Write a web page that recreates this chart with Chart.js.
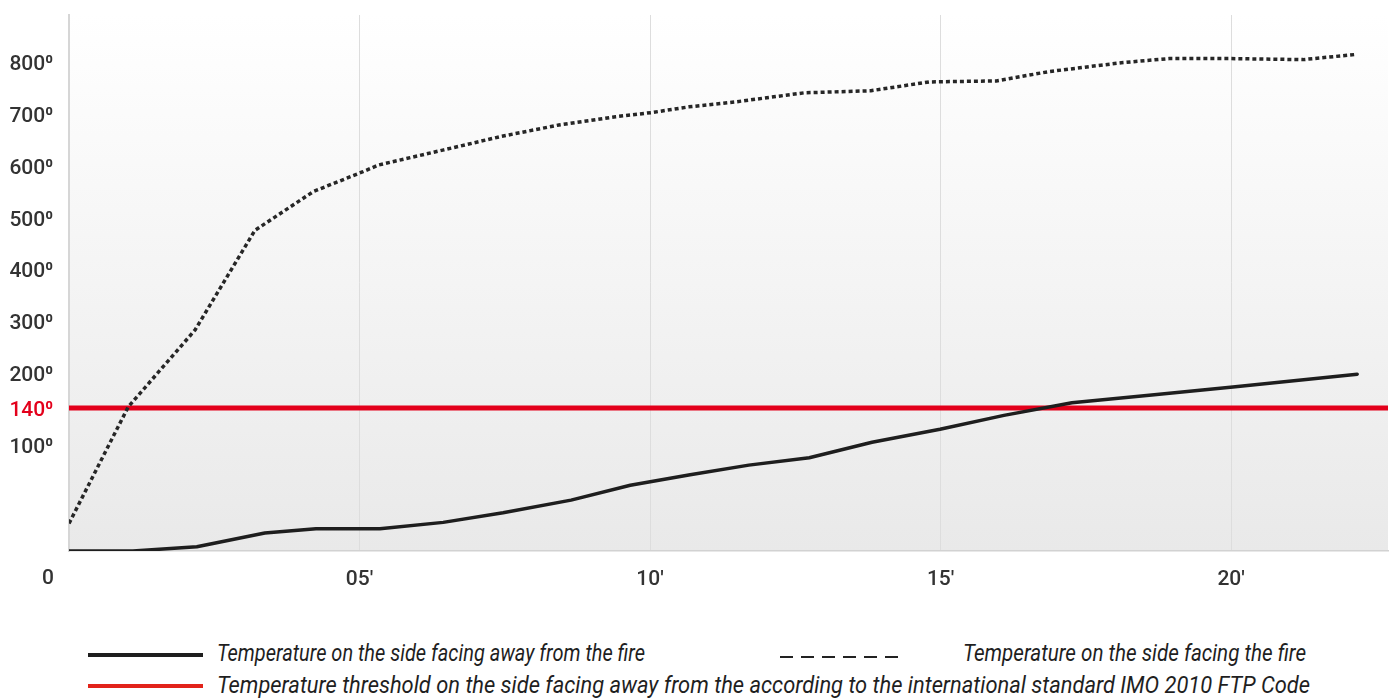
<!DOCTYPE html>
<html>
<head>
<meta charset="utf-8">
<script src="https://cdn.jsdelivr.net/npm/chart.js@4/dist/chart.umd.min.js"></script>
<style>
html,body{margin:0;padding:0;background:#fff;width:1392px;height:699px;overflow:hidden;font-family:Roboto,"Noto Sans",sans-serif}
#wrap{position:absolute;left:0;top:0;width:1392px;height:600px}
.lg-sample{position:absolute}
.lg-text{position:absolute;white-space:nowrap;font-family:Roboto,sans-serif;font-style:italic;font-size:23px;line-height:23px;color:#1f1f1f;transform-origin:0 0}
</style>
</head>
<body>
<div id="wrap"><canvas id="c" width="1392" height="600"></canvas></div>
<div id="legend"></div>
<script>
// ---------- data ----------
const awayMinutes = [0, 1.10, 2.20, 3.37, 4.25, 5.35, 6.44, 7.47, 8.64, 9.66, 10.69, 11.70, 12.74, 13.82, 14.99, 16.09, 17.26, 18.59, 20.03, 22.17];
const awayTemps   = [0, 0, 4, 17, 21, 21, 27, 36, 48, 62, 72, 81, 88, 103, 117, 132, 149, 162, 176, 198];

const fireMinutes = [0, 1.02, 2.17, 3.20, 4.21, 5.06, 5.33, 6.45, 7.44, 8.43, 9.41, 10.03, 10.67, 11.50, 12.65, 13.80, 14.80, 15.96, 16.87, 18.11, 18.93, 20.00, 21.24, 22.15];
const fireTemps   = [26, 142, 283, 475, 550, 588, 601, 630, 656, 678, 694, 702, 713, 723, 740, 744, 761, 763, 781, 798, 806, 806, 804, 814];

const thresholdTemp = 140;
const xMin = 0, xMax = 22.7;
const yMin = 0, yMax = 890;

const yTickValues = [100, 140, 200, 300, 400, 500, 600, 700, 800];
const xTickValues = [5, 10, 15, 20];
const xTickLabels = ["05'", "10'", "15'", "20'"];
const originLabel = "0";

const legendLabels = [
  "Temperature on the side facing away from the fire",
  "Temperature on the side facing the fire",
  "Temperature threshold on the side facing away from the according to the international standard IMO 2010 FTP Code"
];

// ---------- styling ----------
const RED = '#e3001b';
const DARK = '#1e1e1e';
const LABEL = '#333333';

// piecewise vertical axis (value breakpoints -> fraction of axis height)
const yBreakValues = [0, 100, 140, 200, 890];
const yBreakFracs  = [0, 0.1978, 0.2668, 0.3321, 1];

class PiecewiseScale extends Chart.LinearScale {
  static id = 'piecewise';
  _frac(v) {
    const bv = yBreakValues, bf = yBreakFracs;
    if (v <= bv[0]) return bf[0];
    for (let i = 1; i < bv.length; i++) {
      if (v <= bv[i]) {
        return bf[i-1] + (v - bv[i-1]) / (bv[i] - bv[i-1]) * (bf[i] - bf[i-1]);
      }
    }
    const n = bv.length - 1;
    return bf[n] + (v - bv[n]) / (bv[n] - bv[n-1]) * (bf[n] - bf[n-1]);
  }
  getPixelForValue(value) {
    if (value === null || value === undefined) return NaN;
    return this.getPixelForDecimal(this._frac(value));
  }
  getValueForPixel(pixel) {
    const f = this.getDecimalForPixel(pixel);
    const bv = yBreakValues, bf = yBreakFracs;
    for (let i = 1; i < bf.length; i++) {
      if (f <= bf[i]) {
        return bv[i-1] + (f - bf[i-1]) / (bf[i] - bf[i-1]) * (bv[i] - bv[i-1]);
      }
    }
    return bv[bv.length-1];
  }
}
Chart.register(PiecewiseScale);

const toPoints = (xs, ys) => xs.map((x, i) => ({x, y: ys[i]}));

const bgPlugin = {
  id: 'bgGradient',
  beforeDraw(chart) {
    const {ctx, chartArea: a} = chart;
    const g = ctx.createLinearGradient(0, a.top, 0, a.bottom);
    g.addColorStop(0, '#ffffff');
    g.addColorStop(1, '#e9e9e9');
    ctx.save();
    ctx.fillStyle = g;
    ctx.fillRect(a.left, a.top, a.right - a.left, a.bottom - a.top);
    ctx.restore();
  }
};

const originPlugin = {
  id: 'originLabel',
  afterDraw(chart) {
    const {ctx, chartArea: a} = chart;
    ctx.save();
    ctx.font = '500 21px Roboto';
    ctx.fillStyle = LABEL;
    ctx.textAlign = 'right';
    ctx.textBaseline = 'middle';
    ctx.fillText(originLabel, a.left - 15, a.bottom + 28);
    ctx.restore();
  }
};

new Chart(document.getElementById('c'), {
  type: 'line',
  data: {
    datasets: [
      {
        label: legendLabels[0],
        data: toPoints(awayMinutes, awayTemps),
        borderColor: DARK,
        borderWidth: 3.5,
        pointRadius: 0,
        tension: 0,
        borderJoinStyle: 'round',
        borderCapStyle: 'round'
      },
      {
        label: legendLabels[1],
        data: toPoints(fireMinutes, fireTemps),
        borderColor: '#262626',
        borderWidth: 3.5,
        borderDash: [4, 3],
        pointRadius: 0,
        tension: 0
      },
      {
        label: legendLabels[2],
        data: toPoints([xMin, xMax], [thresholdTemp, thresholdTemp]),
        borderColor: RED,
        borderWidth: 5,
        pointRadius: 0,
        tension: 0
      }
    ]
  },
  options: {
    responsive: false,
    animation: false,
    events: [],
    layout: { padding: { top: 15, right: 4, left: 0, bottom: 0 } },
    plugins: { legend: { display: false }, tooltip: { enabled: false }, title: { display: false } },
    scales: {
      x: {
        type: 'linear',
        min: xMin,
        max: xMax,
        afterBuildTicks: s => { s.ticks = xTickValues.map(v => ({value: v})); },
        afterFit: s => { s.height = 49; s.paddingLeft = 0; s.paddingRight = 0; },
        ticks: {
          callback: (v) => xTickLabels[xTickValues.indexOf(v)],
          font: { family: 'Roboto', size: 21, weight: '500' },
          color: LABEL,
          padding: 16,
          maxRotation: 0,
          autoSkip: false
        },
        grid: { display: true, color: '#dddddd', lineWidth: 1, drawTicks: false },
        border: { display: true, color: '#d2d2d2', width: 1.5 }
      },
      y: {
        type: 'piecewise',
        min: yMin,
        max: yMax,
        afterBuildTicks: s => { s.ticks = yTickValues.map(v => ({value: v})); },
        afterFit: s => { s.width = 69; s.paddingTop = 0; s.paddingBottom = 0; },
        ticks: {
          callback: (v) => v + '\u2070',
          font: { family: 'Roboto', size: 21, weight: '500' },
          color: (ctx) => ctx.tick && ctx.tick.value === thresholdTemp ? RED : LABEL,
          padding: 16,
          labelOffset: 3,
          autoSkip: false
        },
        grid: { display: false, drawTicks: false },
        border: { display: true, color: '#d6d6d6', width: 2 }
      }
    }
  },
  plugins: [bgPlugin, originPlugin]
});

// ---------- HTML legend ----------
const legendLayout = [
  { sample: { left: 88, top: 653, width: 115, height: 4, bg: DARK }, text: { left: 217, top: 642, width: 428 } },
  { sample: { left: 780, top: 656, width: 118, height: 2, bg: 'repeating-linear-gradient(to right, #222 0 13px, transparent 13px 21px)' }, text: { left: 963, top: 642, width: 343 } },
  { sample: { left: 88, top: 684, width: 115, height: 4, bg: '#e2231a' }, text: { left: 217, top: 674, width: 1093 } }
];
const legendEl = document.getElementById('legend');
legendLabels.forEach((lbl, i) => {
  const L = legendLayout[i];
  const s = document.createElement('div');
  s.className = 'lg-sample';
  Object.assign(s.style, { left: L.sample.left + 'px', top: L.sample.top + 'px', width: L.sample.width + 'px', height: L.sample.height + 'px', background: L.sample.bg });
  legendEl.appendChild(s);
  const t = document.createElement('span');
  t.className = 'lg-text';
  t.textContent = lbl;
  t.style.left = L.text.left + 'px';
  t.style.top = L.text.top + 'px';
  legendEl.appendChild(t);
  const w = t.getBoundingClientRect().width;
  if (w > 0) t.style.transform = 'scaleX(' + (L.text.width / w) + ')';
});
</script>
</body>
</html>
